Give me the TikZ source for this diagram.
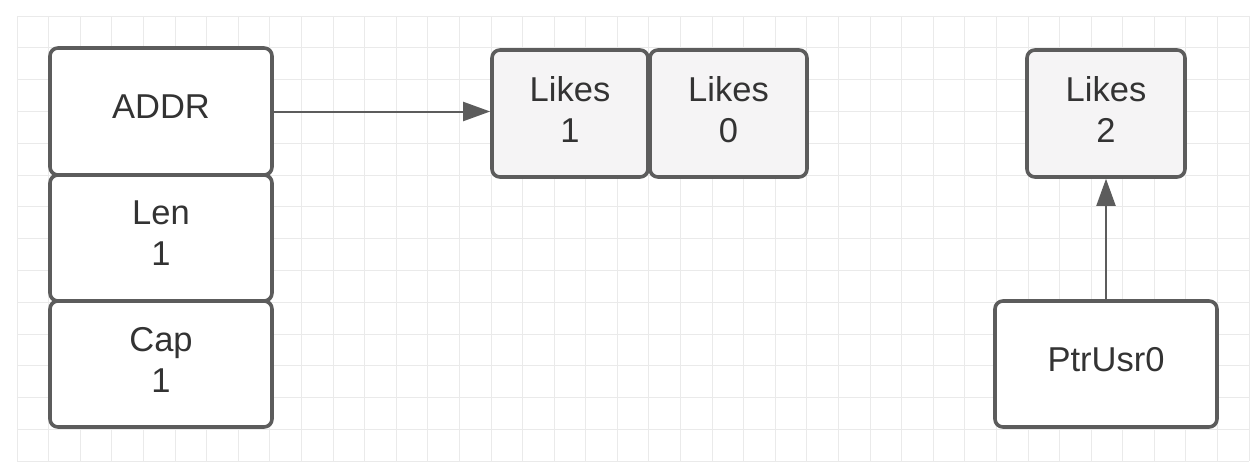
\documentclass[tikz,border=0pt]{standalone}
\usepackage{fontspec}
\setmainfont{Liberation Sans}
\usetikzlibrary{arrows.meta}
\definecolor{edge}{HTML}{5C5C5C}
\definecolor{txt}{HTML}{333333}
\definecolor{gridc}{HTML}{EAEAEA}
\definecolor{cellfill}{HTML}{F5F4F5}
\begin{document}
\begin{tikzpicture}[x=1pt,y=-1pt,
  cell/.style={draw=edge,line width=3.6pt,rounded corners=8pt,text=txt,
    font=\fontsize{34.5}{41}\selectfont,align=center,inner sep=0pt,text depth=9pt},
  plain/.style={cell,fill=white},
  grey/.style={cell,fill=cellfill},
  conn/.style={draw=edge,line width=2pt,-{Triangle[length=27pt,width=19pt]}}]
\useasboundingbox (0,0) rectangle (1256,471);
\fill[white] (0,0) rectangle (1256,471);
% grid
\foreach \i in {0,...,39} {\draw[gridc,line width=0.7pt] ({17+\i*31.59},16) -- ({17+\i*31.59},461);}
\foreach \j in {0,...,14} {\draw[gridc,line width=0.7pt] (17,{16+\j*31.79}) -- (1249,{16+\j*31.79});}
% left struct
\node[plain,minimum width=222pt,minimum height=127pt] (addr) at (161,111.5) {ADDR};
\node[plain,minimum width=222pt,minimum height=126pt] (len) at (161,238) {Len\\1};
\node[plain,minimum width=222pt,minimum height=126pt] (cap) at (161,364) {Cap\\1};
% likes array
\node[grey,minimum width=156pt,minimum height=127pt] (l1) at (570,113.5) {Likes\\1};
\node[grey,minimum width=157pt,minimum height=127pt] (l0) at (728.5,113.5) {Likes\\0};
\node[grey,minimum width=158pt,minimum height=127pt] (l2) at (1106,113.5) {Likes\\2};
\node[plain,minimum width=222pt,minimum height=126pt] (ptr) at (1106,364) {PtrUsr0};
% connectors
\draw[conn] (addr.east) -- (addr.east -| l1.west);
\draw[conn] (ptr.north) -- (l2.south);
\end{tikzpicture}
\end{document}
